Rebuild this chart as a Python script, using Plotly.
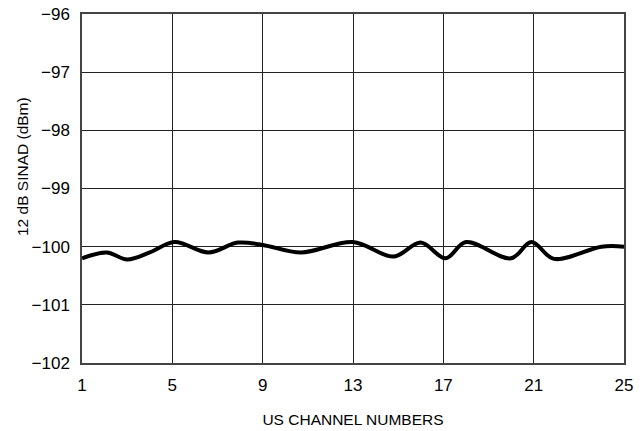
import plotly.graph_objects as go

# sensitivity curve
channel = [1, 2.1, 3, 4, 5.1, 6.6, 7.9, 9, 10.7, 13, 14.8, 16, 17.1, 18, 20, 20.9, 21.9, 24, 25]
sinad = [-100.2, -100.1, -100.22, -100.1, -99.92, -100.1, -99.93, -99.97, -100.1, -99.92,
         -100.17, -99.93, -100.2, -99.92, -100.2, -99.92, -100.21, -100.0, -100.0]

x_ticks = [1, 5, 9, 13, 17, 21, 25]
y_ticks = [-102, -101, -100, -99, -98, -97, -96]
y_labels = ["\u2212102", "\u2212101", "\u2212100", "\u221299", "\u221298", "\u221297", "\u221296"]

FONT = "Liberation Sans, Arial"

fig = go.Figure(go.Scatter(
    x=channel, y=sinad, mode="lines",
    line=dict(color="black", width=4, shape="spline", smoothing=1.0),
    showlegend=False, hoverinfo="skip"
))

axis_common = dict(
    showgrid=True, gridcolor="#222", gridwidth=1,
    showline=True, linecolor="#444", linewidth=1.5, mirror=True,
    zeroline=False, ticks="", automargin=False, ticklabeloverflow="allow",
    tickfont=dict(family=FONT, size=17, color="black"),
)

fig.update_layout(
    width=640, height=431,
    margin=dict(l=82, r=16, t=14, b=68),
    plot_bgcolor="white", paper_bgcolor="white",
    xaxis=dict(range=[1, 25], tickvals=x_ticks, ticklabelstandoff=6,
               title=dict(text="US CHANNEL NUMBERS", standoff=20,
                          font=dict(family=FONT, size=15.5, color="black")),
               **axis_common),
    yaxis=dict(range=[-102, -96], tickvals=y_ticks, ticktext=y_labels, ticklabelstandoff=7,
               **axis_common),
)

# y-axis title as an annotation, a little above the plot's middle like the original
fig.add_annotation(text="12 dB SINAD (dBm)", textangle=-90, showarrow=False,
                   xref="paper", yref="paper", x=-0.111, y=0.564,
                   xanchor="center", yanchor="middle",
                   font=dict(family=FONT, size=15.5, color="black"))

# drop the page's default body margin so the chart sits at the window corner
fig.write_html("out.html", config={"displayModeBar": False},
               post_script="document.body.style.margin='0';")
